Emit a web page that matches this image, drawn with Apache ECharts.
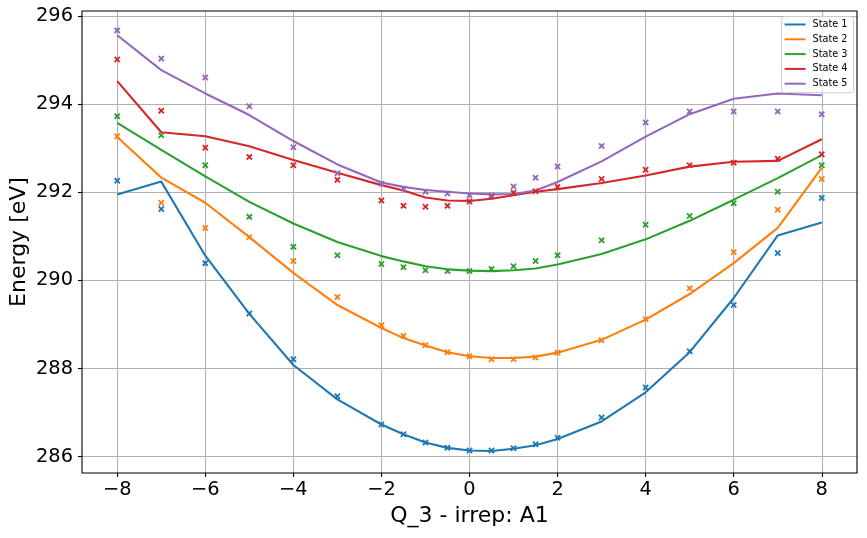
<!DOCTYPE html>
<html>
<head>
<meta charset="utf-8">
<script src="https://cdn.jsdelivr.net/npm/echarts@6/dist/echarts.min.js"></script>
<style>
html,body{margin:0;padding:0;background:#fff;}
#chart{width:867px;height:538px;}
</style>
</head>
<body>
<div id="chart"></div>
<script>
// ---- data ----
var qValues = [-8,-7,-6,-5,-4,-3,-2,-1.5,-1,-0.5,0,0.5,1,1.5,2,3,4,5,6,7,8];
var stateNames = ['State 1','State 2','State 3','State 4','State 5'];
var xTicks = [-8,-6,-4,-2,0,2,4,6,8];
var yTicks = [286,288,290,292,294,296];

// fitted curves (lines)
var state1Line = [291.95,292.24,290.56,289.24,288.08,287.30,286.73,286.51,286.32,286.20,286.14,286.13,286.18,286.26,286.40,286.80,287.46,288.37,289.60,291.02,291.31];
var state2Line = [293.25,292.33,291.76,290.98,290.17,289.44,288.92,288.69,288.52,288.37,288.28,288.24,288.24,288.27,288.36,288.65,289.11,289.69,290.39,291.19,292.55];
var state3Line = [293.57,292.96,292.36,291.78,291.29,290.87,290.55,290.43,290.32,290.25,290.22,290.21,290.23,290.27,290.36,290.60,290.93,291.35,291.83,292.32,292.84];
var state4Line = [294.52,293.36,293.27,293.04,292.73,292.44,292.16,292.04,291.88,291.81,291.80,291.85,291.93,292.01,292.07,292.21,292.38,292.58,292.69,292.71,293.20];
var state5Line = [295.56,294.77,294.24,293.75,293.16,292.63,292.22,292.12,292.05,292.01,291.97,291.95,291.96,292.04,292.23,292.70,293.26,293.77,294.12,294.24,294.20];

// computed points (x markers)
var state1Pts = [292.26,291.62,290.39,289.25,288.21,287.37,286.73,286.51,286.32,286.20,286.14,286.14,286.19,286.28,286.43,286.89,287.57,288.39,289.44,290.62,291.87];
var state2Pts = [293.27,291.76,291.19,290.98,290.44,289.62,288.98,288.74,288.53,288.37,288.28,288.21,288.21,288.25,288.36,288.64,289.12,289.82,290.64,291.60,292.30];
var state3Pts = [293.72,293.29,292.61,291.44,290.76,290.57,290.37,290.30,290.23,290.21,290.21,290.26,290.32,290.44,290.57,290.91,291.26,291.46,291.75,292.01,292.61];
var state4Pts = [295.01,293.85,293.01,292.80,292.61,292.28,291.81,291.69,291.67,291.69,291.79,291.90,291.99,292.02,292.12,292.30,292.51,292.61,292.67,292.76,292.86];
var state5Pts = [295.67,295.03,294.60,293.95,293.02,292.43,292.19,292.08,292.01,291.97,291.93,291.93,292.13,292.33,292.58,293.05,293.58,293.83,293.83,293.83,293.77];

var colors = ['#1f77b4','#ff7f0e','#2ca02c','#d62728','#9467bd'];
var lines = [state1Line,state2Line,state3Line,state4Line,state5Line];
var pts = [state1Pts,state2Pts,state3Pts,state4Pts,state5Pts];

// ---- layout ----
var W = 867, H = 538;
var L = 82, R = 857, T = 11, B = 473;
var xMin = -8.8, xMax = 8.8, yMin = 285.63, yMax = 296.11;
var pxX = (R - L) / (xMax - xMin);
var pxY = (B - T) / (yMax - yMin);

function fmt(v){ return v < 0 ? '\u2212' + Math.abs(v) : String(v); }

var FONT = 'DejaVu Sans';
var gridLineStyle = {color:'#b0b0b0', width:1.1};

var xSplitMin = xTicks[0], xSplitMax = xTicks[xTicks.length-1];
var ySplitMin = yTicks[0], ySplitMax = yTicks[yTicks.length-1];

var grids = [
  {left:L, top:T, width:R-L, height:B-T, show:true, borderColor:'#000', borderWidth:1.1, backgroundColor:'transparent', z:5},
  {left:L + (xSplitMin - xMin)*pxX, width:(xSplitMax - xSplitMin)*pxX, top:T, height:B-T},
  {left:L, width:R-L, top:T + (yMax - ySplitMax)*pxY, height:(ySplitMax - ySplitMin)*pxY}
];

var xAxes = [
  {gridIndex:0, type:'value', min:xMin, max:xMax, show:true, position:'bottom',
   axisLine:{show:false, onZero:false}, axisTick:{show:false}, axisLabel:{show:false}, splitLine:{show:false},
   name:'Q_3 - irrep: A1', nameLocation:'middle', nameGap:32,
   nameTextStyle:{fontFamily:FONT, fontSize:22, color:'#000'}},
  {gridIndex:1, type:'value', min:xSplitMin, max:xSplitMax, interval:2, position:'bottom',
   axisLine:{show:false, onZero:false}, axisTick:{show:true, length:4, lineStyle:{color:'#000', width:1.1}},
   axisLabel:{fontFamily:FONT, fontSize:19.4, color:'#000', margin:7, formatter:fmt},
   splitLine:{show:true, lineStyle:gridLineStyle}},
  {gridIndex:2, type:'value', min:xMin, max:xMax, show:false, axisLine:{onZero:false}}
];
var yAxes = [
  {gridIndex:0, type:'value', min:yMin, max:yMax, show:true, position:'left',
   axisLine:{show:false, onZero:false}, axisTick:{show:false}, axisLabel:{show:false}, splitLine:{show:false},
   name:'Energy [eV]', nameLocation:'middle', nameGap:52,
   nameTextStyle:{fontFamily:FONT, fontSize:22, color:'#000'}},
  {gridIndex:1, type:'value', min:0, max:1, show:false, axisLine:{onZero:false}},
  {gridIndex:2, type:'value', min:ySplitMin, max:ySplitMax, interval:2, position:'left',
   axisLine:{show:false, onZero:false}, axisTick:{show:true, length:4, lineStyle:{color:'#000', width:1.1}},
   axisLabel:{fontFamily:FONT, fontSize:19.4, color:'#000', margin:9, formatter:fmt},
   splitLine:{show:true, lineStyle:gridLineStyle}}
];

var xMark = 'path://M2,0 L5,3 L8,0 L10,2 L7,5 L10,8 L8,10 L5,7 L2,10 L0,8 L3,5 L0,2 Z';

var series = [];
for (var i = 0; i < 5; i++) {
  series.push({
    type:'line', name:stateNames[i], xAxisIndex:0, yAxisIndex:0,
    data: qValues.map(function(q, j){ return [q, lines[i][j]]; }),
    showSymbol:false, symbol:'none', smooth:false,
    lineStyle:{color:colors[i], width:2.1}, itemStyle:{color:colors[i]},
    animation:false, z:3
  });
}
for (var k = 0; k < 5; k++) {
  series.push({
    type:'scatter', name:stateNames[k] + ' points', xAxisIndex:0, yAxisIndex:0,
    data: qValues.map(function(q, j){ return [q, pts[k][j]]; }),
    symbol:xMark, symbolSize:6.5,
    itemStyle:{color:colors[k], opacity:1}, animation:false, z:4
  });
}

var chart = echarts.init(document.getElementById('chart'), null, {renderer:'canvas'});
chart.setOption({
  animation:false,
  backgroundColor:'#ffffff',
  color:colors,
  grid:grids,
  xAxis:xAxes,
  yAxis:yAxes,
  legend:{
    show:true, orient:'vertical', right:W-853.5, top:16.5,
    data: stateNames.map(function(n){ return {name:n, icon:'rect'}; }),
    itemWidth:21, itemHeight:2, itemGap:2.8,
    padding:[2,6,3,3],
    textStyle:{fontFamily:FONT, fontSize:9.7, color:'#000', lineHeight:12, padding:[0,0,0,2]},
    backgroundColor:'rgba(255,255,255,0.8)', borderColor:'#cccccc', borderWidth:1, borderRadius:3,
    selectedMode:false, z:10
  },
  series:series
});
</script>
</body>
</html>
